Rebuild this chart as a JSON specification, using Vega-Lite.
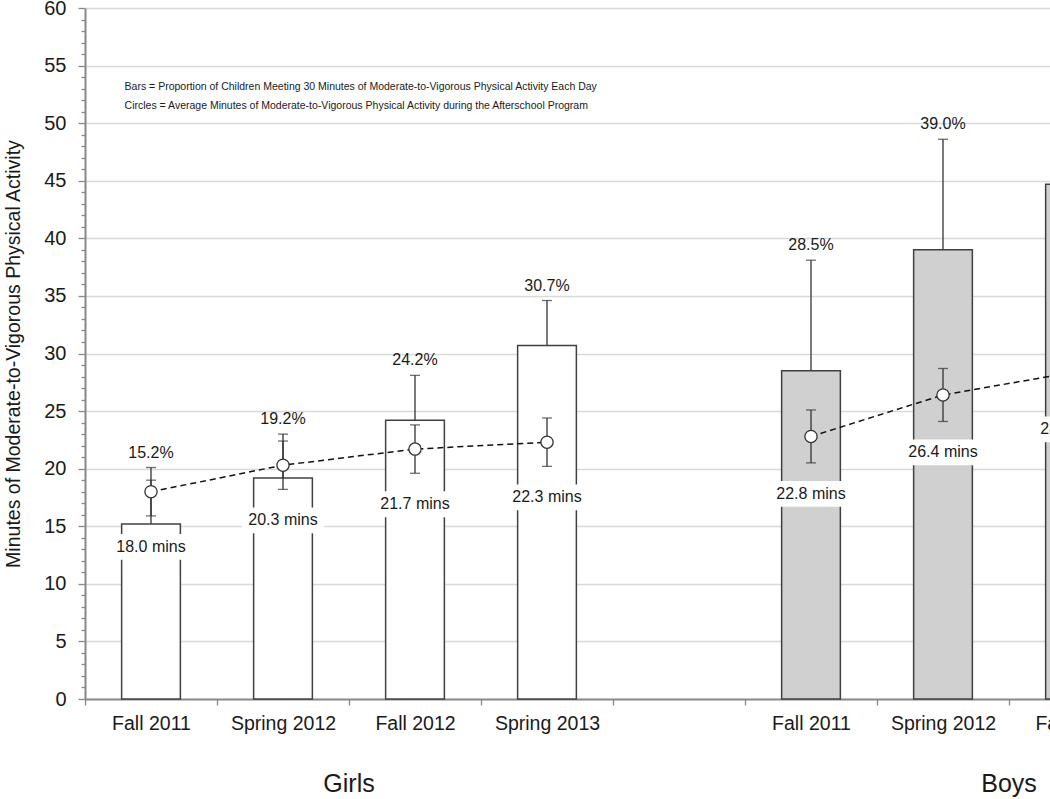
{
  "$schema": "https://vega.github.io/schema/vega-lite/v6.json",
  "width": 965,
  "height": 691,
  "autosize": {"type": "none"},
  "padding": {"left": 85, "top": 8, "right": 0, "bottom": 100},
  "background": "white",
  "config": {
    "font": "Liberation Sans",
    "view": {"stroke": null},
    "text": {"font": "Liberation Sans", "color": "#1a1a1a"},
    "axisY": {
      "tickCount": 60,
      "labelOverlap": false,
      "labelFontSize": 20, "labelColor": "#1a1a1a", "labelPadding": 12,
      "labelOpacity": {"condition": {"test": "datum.value % 5 !== 0", "value": 0}, "value": 1},
      "tickSize": {"condition": {"test": "datum.value % 5 === 0", "value": 7}, "value": 4},
      "tickColor": "#888888", "tickWidth": 1.3,
      "domainColor": "#888888", "domainWidth": 2,
      "grid": true, "gridColor": "#d9d9d9", "gridWidth": 1.5,
      "titleFontSize": 19.5, "titleFontWeight": "normal", "titleColor": "#1a1a1a", "titlePadding": 20
    },
    "axisX": {
      "labelFontSize": 19.5, "labelColor": "#1a1a1a", "labelPadding": 9, "labelAngle": 0,
      "labelOverlap": false,
      "tickBand": "extent", "tickSize": 6, "tickColor": "#888888", "tickWidth": 1.3,
      "domainColor": "#888888", "domainWidth": 2, "grid": false
    }
  },
  "data": {"values": [
    {"cat": "Girls|Fall 2011", "grp": "Girls", "pct": 15.2, "pct_hi": 19.0, "mins": 18.0, "mins_lo": 15.9, "mins_hi": 20.1},
    {"cat": "Girls|Spring 2012", "grp": "Girls", "pct": 19.2, "pct_hi": 23.0, "mins": 20.3, "mins_lo": 18.2, "mins_hi": 22.4},
    {"cat": "Girls|Fall 2012", "grp": "Girls", "pct": 24.2, "pct_hi": 28.1, "mins": 21.7, "mins_lo": 19.6, "mins_hi": 23.8},
    {"cat": "Girls|Spring 2013", "grp": "Girls", "pct": 30.7, "pct_hi": 34.6, "mins": 22.3, "mins_lo": 20.2, "mins_hi": 24.4},
    {"cat": "Boys|Fall 2011", "grp": "Boys", "pct": 28.5, "pct_hi": 38.1, "mins": 22.8, "mins_lo": 20.5, "mins_hi": 25.1},
    {"cat": "Boys|Spring 2012", "grp": "Boys", "pct": 39.0, "pct_hi": 48.6, "mins": 26.4, "mins_lo": 24.1, "mins_hi": 28.7},
    {"cat": "Boys|Fall 2012", "grp": "Boys", "pct": 44.7, "pct_hi": 54.0, "mins": 28.4, "mins_lo": 26.1, "mins_hi": 30.7}
  ]},
  "transform": [
    {"calculate": "format(datum.pct, '.1f') + '%'", "as": "pct_label"},
    {"calculate": "format(datum.mins, '.1f') + ' mins'", "as": "mins_label"},
    {"calculate": "max(datum.pct_hi, datum.mins_hi)", "as": "top"}
  ],
  "encoding": {
    "x": {
      "field": "cat", "type": "nominal", "sort": null, "title": null,
      "scale": {
        "domain": ["Girls|Fall 2011", "Girls|Spring 2012", "Girls|Fall 2012", "Girls|Spring 2013", "gap", "Boys|Fall 2011", "Boys|Spring 2012", "Boys|Fall 2012", "Boys|Spring 2013"],
        "range": [0, 1188], "paddingInner": 0, "paddingOuter": 0
      },
      "axis": {"labelExpr": "split(datum.label, '|')[1] || ''"}
    }
  },
  "layer": [
    {
      "mark": {"type": "bar", "width": {"band": 0.445}, "stroke": "#404040", "strokeWidth": 1.5},
      "encoding": {
        "y": {
          "field": "pct", "type": "quantitative",
          "title": "Minutes of Moderate-to-Vigorous Physical Activity",
          "scale": {"domain": [0, 60], "nice": false, "zero": true},
          "axis": {"gridOpacity": {"condition": {"test": "datum.value % 5 === 0 && datum.value > 0", "value": 1}, "value": 0}}
        },
        "fill": {"field": "grp", "type": "nominal", "scale": {"domain": ["Girls", "Boys"], "range": ["#ffffff", "#d0d0d0"]}, "legend": null}
      }
    },
    {
      "mark": {"type": "rule", "color": "#333333", "strokeWidth": 1.3},
      "encoding": {"y": {"field": "pct", "type": "quantitative", "axis": {"gridOpacity": {"condition": {"test": "datum.value % 5 === 0 && datum.value > 0", "value": 1}, "value": 0}}}, "y2": {"field": "pct_hi"}}
    },
    {
      "mark": {"type": "tick", "color": "#333333", "size": 10, "thickness": 1.3},
      "encoding": {"y": {"field": "pct_hi", "type": "quantitative", "axis": {"gridOpacity": {"condition": {"test": "datum.value % 5 === 0 && datum.value > 0", "value": 1}, "value": 0}}}}
    },
    {
      "mark": {"type": "point", "shape": "M-1,0.44L1,0.44L1,1.07L-1,1.07Z", "size": 6724, "filled": true, "fill": "#ffffff", "opacity": 1, "strokeWidth": 0},
      "encoding": {"y": {"field": "mins_lo", "type": "quantitative", "axis": {"gridOpacity": {"condition": {"test": "datum.value % 5 === 0 && datum.value > 0", "value": 1}, "value": 0}}}}
    },
    {
      "mark": {"type": "text", "fontSize": 16, "dy": 31, "baseline": "middle", "align": "center"},
      "encoding": {"y": {"field": "mins_lo", "type": "quantitative", "axis": {"gridOpacity": {"condition": {"test": "datum.value % 5 === 0 && datum.value > 0", "value": 1}, "value": 0}}}, "text": {"field": "mins_label"}}
    },
    {
      "mark": {"type": "line", "color": "#111111", "strokeWidth": 1.5, "strokeDash": [6, 4]},
      "encoding": {"y": {"field": "mins", "type": "quantitative", "axis": {"gridOpacity": {"condition": {"test": "datum.value % 5 === 0 && datum.value > 0", "value": 1}, "value": 0}}}, "detail": {"field": "grp"}}
    },
    {
      "mark": {"type": "rule", "color": "#333333", "strokeWidth": 1.3},
      "encoding": {"y": {"field": "mins_lo", "type": "quantitative", "axis": {"gridOpacity": {"condition": {"test": "datum.value % 5 === 0 && datum.value > 0", "value": 1}, "value": 0}}}, "y2": {"field": "mins_hi"}}
    },
    {
      "mark": {"type": "tick", "color": "#333333", "size": 10, "thickness": 1.3},
      "encoding": {"y": {"field": "mins_lo", "type": "quantitative", "axis": {"gridOpacity": {"condition": {"test": "datum.value % 5 === 0 && datum.value > 0", "value": 1}, "value": 0}}}}
    },
    {
      "mark": {"type": "tick", "color": "#333333", "size": 10, "thickness": 1.3},
      "encoding": {"y": {"field": "mins_hi", "type": "quantitative", "axis": {"gridOpacity": {"condition": {"test": "datum.value % 5 === 0 && datum.value > 0", "value": 1}, "value": 0}}}}
    },
    {
      "mark": {"type": "point", "shape": "circle", "size": 150, "filled": true, "fill": "#ffffff", "stroke": "#333333", "strokeWidth": 1.3, "opacity": 1},
      "encoding": {"y": {"field": "mins", "type": "quantitative", "axis": {"gridOpacity": {"condition": {"test": "datum.value % 5 === 0 && datum.value > 0", "value": 1}, "value": 0}}}}
    },
    {
      "mark": {"type": "text", "fontSize": 16, "dy": -15, "baseline": "middle", "align": "center"},
      "encoding": {"y": {"field": "top", "type": "quantitative", "axis": {"gridOpacity": {"condition": {"test": "datum.value % 5 === 0 && datum.value > 0", "value": 1}, "value": 0}}}, "text": {"field": "pct_label"}}
    },
    {
      "data": {"values": [{"cat": "Girls|Fall 2011"}]},
      "mark": {"type": "text", "fontSize": 10.5, "align": "left", "baseline": "top", "lineHeight": 19},
      "encoding": {
        "x": {"field": "cat", "type": "nominal", "bandPosition": 0.3},
        "y": {"datum": 53.6, "type": "quantitative", "axis": {"gridOpacity": {"condition": {"test": "datum.value % 5 === 0 && datum.value > 0", "value": 1}, "value": 0}}},
        "text": {"value": ["Bars = Proportion of Children Meeting 30 Minutes of Moderate-to-Vigorous Physical Activity Each Day", "Circles = Average Minutes of Moderate-to-Vigorous Physical Activity during the Afterschool Program"]}
      }
    },
    {
      "data": {"values": [{"cat": "Girls|Spring 2012", "g": "Girls"}, {"cat": "Boys|Spring 2012", "g": "Boys"}]},
      "mark": {"type": "text", "fontSize": 25, "align": "center", "baseline": "middle"},
      "encoding": {
        "x": {"field": "cat", "type": "nominal", "bandPosition": 1},
        "y": {"datum": -7.4, "type": "quantitative", "axis": {"gridOpacity": {"condition": {"test": "datum.value % 5 === 0 && datum.value > 0", "value": 1}, "value": 0}}},
        "text": {"field": "g"}
      }
    }
  ]
}
